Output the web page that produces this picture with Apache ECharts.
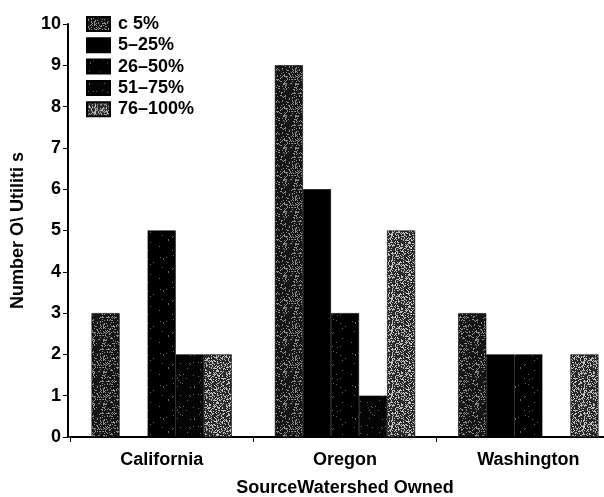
<!DOCTYPE html>
<html><head><meta charset="utf-8">
<script src="https://cdn.jsdelivr.net/npm/echarts@6/dist/echarts.min.js"></script>
<style>html,body{margin:0;padding:0;background:#fff}#c{width:604px;height:497px}</style>
</head><body><div id="c"></div>
<script>
var categories = ['California', 'Oregon', 'Washington'];
var seriesNames = ['c 5%', '5\u201325%', '26\u201350%', '51\u201375%', '76\u2013100%'];
var lt5 = [3, 9, 3];
var p5_25 = [0, 6, 2];
var p26_50 = [5, 3, 2];
var p51_75 = [2, 1, 0];
var p76_100 = [2, 5, 2];
var yTicks = [0, 10, 1];

function speckle(base, dot, density, seed) {
  var c = document.createElement('canvas');
  c.width = 32; c.height = 32;
  var g = c.getContext('2d');
  g.fillStyle = base; g.fillRect(0, 0, 32, 32);
  var s = seed;
  function rnd() { s = (s * 1103515245 + 12345) % 2147483648; return s / 2147483648; }
  g.fillStyle = dot;
  for (var i = 0; i < 1024; i++) {
    if (rnd() < density) g.fillRect(i % 32, Math.floor(i / 32), 1, 1);
  }
  return {image: c, repeat: 'repeat'};
}

var fills = [
  speckle('#151515', '#8a8a8a', 0.2, 7),
  '#000000',
  speckle('#000000', '#666666', 0.02, 11),
  speckle('#050505', '#666666', 0.03, 19),
  speckle('#2a2a2a', '#bdbdbd', 0.32, 23)
];
var dataSets = [lt5, p5_25, p26_50, p51_75, p76_100];

var chart = echarts.init(document.getElementById('c'));
var bold = {fontFamily: 'Liberation Sans, Arial, sans-serif', fontWeight: 'bold', color: '#000'};
chart.setOption({
  animation: false,
  backgroundColor: '#fff',
  grid: {left: 70, width: 550, top: 24, height: 413, outerBoundsMode: 'none', containLabel: false},
  legend: {
    orient: 'vertical', left: 81, top: 10,
    itemWidth: 23, itemHeight: 14, itemGap: 3.3,
    icon: 'rect',
    textStyle: Object.assign({fontSize: 18, padding: [0, 0, 0, 3]}, bold),
    data: seriesNames
  },
  xAxis: {
    type: 'category', data: categories,
    name: 'SourceWatershed Owned', nameLocation: 'middle', nameGap: 42,
    nameTextStyle: Object.assign({fontSize: 18}, bold),
    axisLine: {lineStyle: {color: '#000', width: 2}},
    axisTick: {show: true, length: 5, lineStyle: {color: '#000', width: 1}},
    axisLabel: Object.assign({fontSize: 18, margin: 14}, bold)
  },
  yAxis: {
    type: 'value', min: yTicks[0], max: yTicks[1], interval: yTicks[2],
    offset: 2,
    name: 'Number O\\ Utiliti s', nameLocation: 'middle', nameGap: 41,
    nameTextStyle: Object.assign({fontSize: 18}, bold),
    splitLine: {show: false},
    axisLine: {show: true, lineStyle: {color: '#000', width: 2}},
    axisTick: {show: true, length: 5, lineStyle: {color: '#000', width: 1}},
    axisLabel: Object.assign({fontSize: 18, margin: 7}, bold)
  },
  series: seriesNames.map(function (n, i) {
    return {
      name: n, type: 'bar', data: dataSets[i],
      barGap: '0%', barCategoryGap: '23.5%',
      itemStyle: {color: fills[i], borderColor: '#000', borderWidth: 0.6}
    };
  })
});
</script></body></html>
